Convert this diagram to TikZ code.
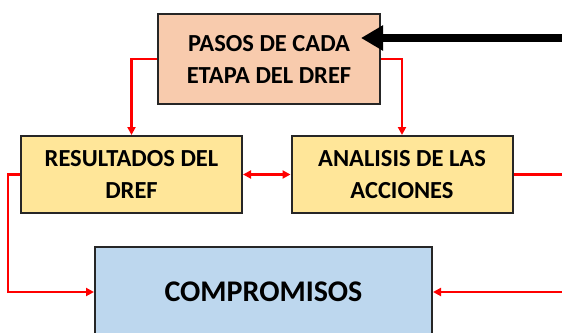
\documentclass[tikz,border=0pt]{standalone}
\usepackage{fontspec}
\setmainfont{Carlito}
\usetikzlibrary{positioning}
\usetikzlibrary{arrows.meta}

\begin{document}
\begin{tikzpicture}[x=1pt ,y=-1pt ,node distance =115.5pt and 137.5pt ,on grid ,
    caja/.style ={ rectangle ,draw =black!85 ,line width =2pt ,inner sep =0pt ,
    align =center ,font =\fontsize{24.5}{32}\selectfont\bfseries },
    pasos/.style ={ caja ,fill ={rgb,255:red,248;green,203;blue,173} ,minimum width =222pt ,minimum height =90pt },
    etapa/.style ={ caja ,fill ={rgb,255:red,255;green,230;blue,153} ,minimum width =221pt ,minimum height =77pt },
    meta/.style ={ caja ,fill ={rgb,255:red,189;green,215;blue,238} ,minimum width =337pt ,minimum height =90pt ,
    font =\fontsize{30}{34}\selectfont\bfseries },
    linea/.style ={ red ,line width =2.2pt ,-{Triangle[length=8pt,width=8pt]} },
    flecha/.style ={ black ,line width =8pt ,-{Triangle[length=22pt,width=24pt]} }]
    \useasboundingbox (0,0) rectangle (562,332);
    \clip (0,0) rectangle (562,332);
    \node[pasos] (pasos) at (269,59) {PASOS DE CADA\\ETAPA DEL DREF};
    \node[etapa] (resultados) [below left = of pasos] {RESULTADOS DEL\\DREF};
    \node[etapa] (analisis) [right = 270.5pt of resultados] {ANALISIS DE LAS\\ACCIONES};
    \node[meta] (compromisos) [below right = 117.5pt and 132pt of resultados] {COMPROMISOS};
    \coordinate (entrada) at (575,38);
    % conexiones
    \draw[flecha] (entrada) -- ([xshift=-20pt]entrada -| pasos.east);
    \draw[linea] (pasos.west) -| (resultados.north);
    \draw[linea] (pasos.east) -| (analisis.north);
    \draw[linea ,{Triangle[length=8pt,width=8pt]}-{Triangle[length=8pt,width=8pt]}] (resultados.east) -- (analisis.west);
    \draw[linea] (resultados.west) -- ++(-12,0) |- (compromisos.west);
    \draw[linea] (analisis.east) -- ++(60,0) |- (compromisos.east);
\end{tikzpicture}
\end{document}
